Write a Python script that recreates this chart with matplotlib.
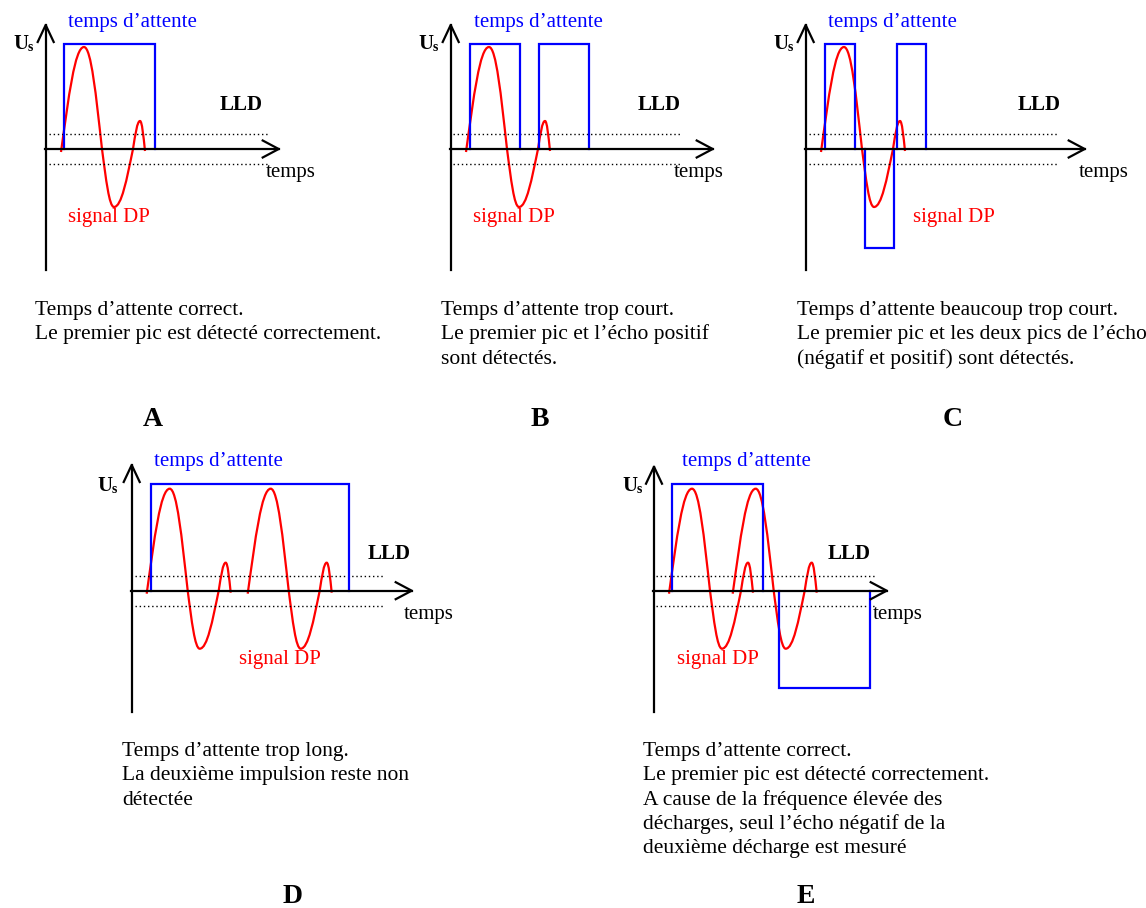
import numpy as np
import matplotlib.pyplot as plt
from matplotlib.path import Path
from matplotlib.patches import PathPatch

plt.rcParams["font.family"] = ["Liberation Serif", "DejaVu Serif"]

W, H = 1146, 908

# one partial-discharge pulse, relative to its start (px, up = +)
pulse_dx = [0, 23, 41, 53, 72, 79, 84]
pulse_dy = [-3, 102, 0, -58, 0, 28, -2]
extrema = [1, 3, 5]

panel_names = ["A", "B", "C", "D", "E"]
# crossing of the two axes (px)
origin_x = [45.7, 450.7, 805.7, 131.7, 654.0]
origin_y = [149.0, 149.0, 149.0, 590.7, 590.7]
axis_up = [124, 124, 124, 125.7, 124]
axis_down = [121, 121, 121, 121, 121]
axis_right = [233, 262, 279, 280, 232.7]
dotted_from = [3.3, 2.3, 3.3, 3.3, 2.0]
dotted_to = [222, 229, 252, 253, 221]
lld_level = 15

pulse_starts = [[15.3], [15.3], [15.3], [15, 116], [15, 78.7]]

# dead-time gates relative to the origin: start, end, height (negative = below)
gate_x0 = [[18.3], [19.3, 88], [19.3, 59.3, 91.3], [19], [18.3, 124.7]]
gate_x1 = [[109.3], [69.3, 138], [49.3, 88.3, 120.3], [217], [109, 215.7]]
gate_h = [[105], [105, 105], [105, -99, 105], [106.4], [106.4, -97.6]]

captions = [
    ["Temps d\u2019attente correct.",
     "Le premier pic est détecté correctement."],
    ["Temps d\u2019attente trop court.",
     "Le premier pic et l\u2019écho positif",
     "sont détectés."],
    ["Temps d\u2019attente beaucoup trop court.",
     "Le premier pic et les deux pics de l\u2019écho",
     "(négatif et positif) sont détectés."],
    ["Temps d\u2019attente trop long.",
     "La deuxième impulsion reste non",
     "détectée"],
    ["Temps d\u2019attente correct.",
     "Le premier pic est détecté correctement.",
     "A cause de la fréquence élevée des",
     "décharges, seul l\u2019écho négatif de la",
     "deuxième décharge est mesuré"],
]

# label positions (absolute px, text baseline)
us_pos = [(13, 49), (418, 49), (773, 49), (97, 491), (622, 491)]
gate_lbl = [(68, 27), (474, 27), (828, 27), (154, 466), (682, 466)]
lld_pos = [(220, 110), (638, 110), (1018, 110), (368, 559), (828, 559)]
temps_pos = [(266, 177), (674, 177), (1079, 177), (404, 619), (873, 619)]
sig_pos = [(68, 222), (473, 222), (913, 222), (239, 664), (677, 664)]
cap_pos = [(35, 315), (441, 315), (797, 315), (122, 756), (643, 756)]
letter_pos = [(153, 426), (540, 426), (953, 426), (293, 903), (806, 903)]

FS = 15
CAP_FS = 15.5
BLUE = "#0000ff"
RED = "#ff0000"


def pulse_path(x_start, y0):
    xs = [x_start + d for d in pulse_dx]
    ys = [y0 - d for d in pulse_dy]
    verts = [(xs[0], ys[0])]
    codes = [Path.MOVETO]
    for i in range(1, len(xs)):
        xa, ya, xb, yb = xs[i - 1], ys[i - 1], xs[i], ys[i]
        dx = xb - xa
        if i in extrema:
            c1 = (xa + 0.33 * dx, ya + (yb - ya) * 0.52)
            c2 = (xb - 0.4 * dx, yb)
        else:
            c1 = (xa + 0.4 * dx, ya)
            c2 = (xb - 0.33 * dx, yb - (yb - ya) * 0.52)
        verts += [c1, c2, (xb, yb)]
        codes += [Path.CURVE4] * 3
    return Path(verts, codes)


fig = plt.figure(figsize=(W / 100, H / 100), dpi=100)
ax = fig.add_axes([0, 0, 1, 1])
ax.set_xlim(0, W)
ax.set_ylim(H, 0)
ax.axis("off")

for p in range(len(panel_names)):
    ox, oy = origin_x[p], origin_y[p]

    # threshold (LLD) lines
    for lev in (lld_level, -lld_level):
        ax.plot([ox + dotted_from[p], ox + dotted_to[p]], [oy - lev, oy - lev],
                color="black", lw=1, ls=(0, (1, 2)))

    # dead-time gates
    for x0, x1, h in zip(gate_x0[p], gate_x1[p], gate_h[p]):
        ax.plot([ox + x0, ox + x0, ox + x1, ox + x1], [oy, oy - h, oy - h, oy],
                color=BLUE, lw=1.6, solid_joinstyle="miter")

    # axes with open arrow heads
    tip_x = ox + axis_right[p]
    top_y = oy - axis_up[p]
    ax.plot([ox, ox], [oy + axis_down[p], top_y], color="black", lw=1.6)
    ax.plot([ox - 1, tip_x], [oy, oy], color="black", lw=1.6)
    ax.plot([ox - 8, ox, ox + 8], [top_y + 17, top_y, top_y + 17],
            color="black", lw=1.6)
    ax.plot([tip_x - 16, tip_x, tip_x - 16], [oy - 8.5, oy, oy + 8.5],
            color="black", lw=1.6)

    # discharge pulses
    for s in pulse_starts[p]:
        ax.add_patch(PathPatch(pulse_path(ox + s, oy), fill=False,
                               edgecolor=RED, lw=1.6))

    # labels
    ux, uy = us_pos[p]
    ax.text(ux, uy, "U", fontsize=FS, fontweight="bold", va="baseline")
    ax.text(ux + 15, uy + 2, "s", fontsize=10, fontweight="bold", va="baseline")
    ax.text(*gate_lbl[p], "temps d\u2019attente", fontsize=FS, color=BLUE,
            va="baseline")
    ax.text(*lld_pos[p], "LLD", fontsize=FS, fontweight="bold", va="baseline")
    ax.text(*temps_pos[p], "temps", fontsize=FS, va="baseline")
    ax.text(*sig_pos[p], "signal DP", fontsize=FS, color=RED, va="baseline")

    cx, cy = cap_pos[p]
    for j, line in enumerate(captions[p]):
        ax.text(cx, cy + j * 24.3, line, fontsize=CAP_FS, va="baseline")
    ax.text(*letter_pos[p], panel_names[p], fontsize=20, fontweight="bold",
            ha="center", va="baseline")

fig.savefig("out.png", dpi=100)
